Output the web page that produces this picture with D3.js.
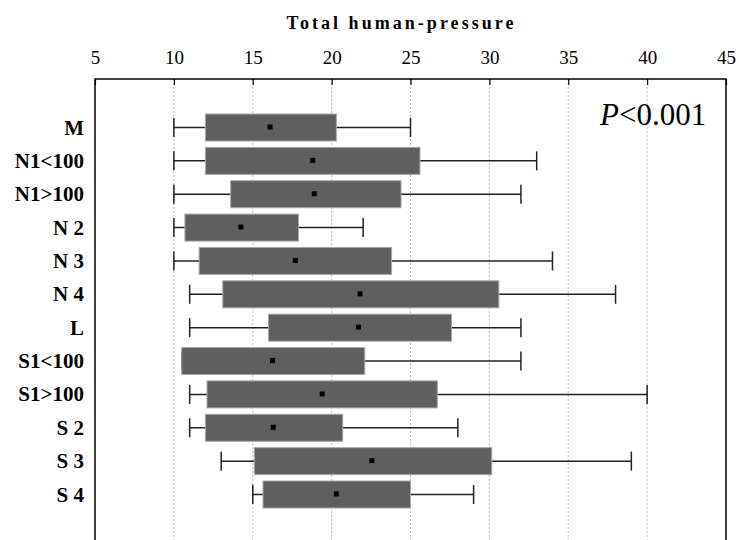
<!DOCTYPE html>
<html>
<head>
<meta charset="utf-8">
<script src="https://cdn.jsdelivr.net/npm/d3@7"></script>
<style>
  body { margin: 0; background: #fff; }
  text { font-family: "Liberation Serif", "Times New Roman", serif; }
</style>
</head>
<body>
<div id="chart"></div>
<script>
// box plot of total human-pressure per group

var categories = ["M", "N1<100", "N1>100", "N 2", "N 3", "N 4", "L", "S1<100", "S1>100", "S 2", "S 3", "S 4"];
var lowWhisker = [10, 10, 10, 10, 10, 11, 11, 10.5, 11, 11, 13, 15];
var boxLow     = [12.0, 12.0, 13.6, 10.7, 11.6, 13.1, 16.0, 10.5, 12.1, 12.0, 15.1, 15.65];
var boxHigh    = [20.3, 25.6, 24.4, 17.9, 23.8, 30.6, 27.6, 22.1, 26.7, 20.7, 30.15, 25.0];
var means      = [16.1, 18.8, 18.9, 14.25, 17.7, 21.8, 21.7, 16.25, 19.4, 16.3, 22.55, 20.3];
var highWhisker = [25, 33, 32, 22, 34, 38, 32, 32, 40, 28, 39, 29];
var xTicks = [5, 10, 15, 20, 25, 30, 35, 40, 45];

var data = categories.map(function(c, i) {
  return {cat: c, lo: lowWhisker[i], q1: boxLow[i], q3: boxHigh[i], mean: means[i], hi: highWhisker[i]};
});

var W = 739, H = 540;
var plotL = 95, plotR = 726, plotT = 79, plotB = 560;

var svg = d3.select("#chart").append("svg")
  .attr("width", W)
  .attr("height", H);

var x = d3.scaleLinear().domain([5, 45]).range([plotL, plotR]);
var y = d3.scalePoint().domain(categories).range([127.5, 494.5]);

var boxH = 27, capH = 19;

// gridlines
svg.append("g")
  .selectAll("line")
  .data(xTicks.slice(1, -1))
  .enter().append("line")
    .attr("x1", function(d) { return x(d); })
    .attr("x2", function(d) { return x(d); })
    .attr("y1", plotT)
    .attr("y2", plotB)
    .attr("stroke", "#bdbdbd")
    .attr("stroke-width", 1)
    .attr("stroke-dasharray", "2,2");

// whiskers
var g = svg.append("g");
g.selectAll(".whisk")
  .data(data)
  .enter().append("line")
    .attr("class", "whisk")
    .attr("x1", function(d) { return x(d.lo); })
    .attr("x2", function(d) { return x(d.hi); })
    .attr("y1", function(d) { return y(d.cat); })
    .attr("y2", function(d) { return y(d.cat); })
    .attr("stroke", "#222")
    .attr("stroke-width", 1.5);

["lo", "hi"].forEach(function(k) {
  g.selectAll(".cap-" + k)
    .data(data)
    .enter().append("line")
      .attr("class", "cap-" + k)
      .attr("x1", function(d) { return x(d[k]); })
      .attr("x2", function(d) { return x(d[k]); })
      .attr("y1", function(d) { return y(d.cat) - capH / 2; })
      .attr("y2", function(d) { return y(d.cat) + capH / 2; })
      .attr("stroke", "#222")
      .attr("stroke-width", 1.5);
});

// boxes
g.selectAll(".box")
  .data(data)
  .enter().append("rect")
    .attr("class", "box")
    .attr("x", function(d) { return x(d.q1); })
    .attr("width", function(d) { return x(d.q3) - x(d.q1); })
    .attr("y", function(d) { return y(d.cat) - boxH / 2; })
    .attr("height", boxH)
    .attr("fill", "#5f5f5f")
    .attr("stroke", "#a8a8a8")
    .attr("stroke-width", 1);

// mean markers
g.selectAll(".mean")
  .data(data)
  .enter().append("rect")
    .attr("class", "mean")
    .attr("x", function(d) { return x(d.mean) - 2.5; })
    .attr("y", function(d) { return y(d.cat) - 3; })
    .attr("width", 5)
    .attr("height", 5)
    .attr("fill", "#000");

// frame
svg.append("rect")
  .attr("x", plotL)
  .attr("y", plotT)
  .attr("width", plotR - plotL)
  .attr("height", plotB - plotT)
  .attr("fill", "none")
  .attr("stroke", "#000")
  .attr("stroke-width", 1.5);

// top axis
var axis = svg.append("g")
  .attr("transform", "translate(0," + plotT + ")")
  .call(d3.axisTop(x).tickValues(xTicks).tickSizeInner(-6).tickSizeOuter(0).tickPadding(15));
axis.select(".domain").remove();
axis.selectAll(".tick line").attr("stroke", "#000").attr("stroke-width", 1.2);
axis.selectAll("text")
  .attr("font-size", 19)
  .attr("fill", "#000");

svg.append("text")
  .attr("x", 400)
  .attr("y", 29)
  .attr("text-anchor", "middle")
  .attr("font-size", 18)
  .attr("font-weight", "bold")
  .attr("textLength", 227)
  .attr("lengthAdjust", "spacing")
  .text("Total human-pressure");

// category labels
svg.append("g")
  .selectAll("text")
  .data(categories)
  .enter().append("text")
    .attr("x", 84)
    .attr("y", function(d) { return y(d) + 7; })
    .attr("text-anchor", "end")
    .attr("font-size", 21)
    .attr("font-weight", "bold")
    .text(function(d) { return d; });

// p-value
var p = svg.append("text")
  .attr("x", 600)
  .attr("y", 125)
  .attr("font-size", 31);
p.append("tspan").attr("font-style", "italic").text("P");
p.append("tspan").text("<0.001");
</script>
</body>
</html>
